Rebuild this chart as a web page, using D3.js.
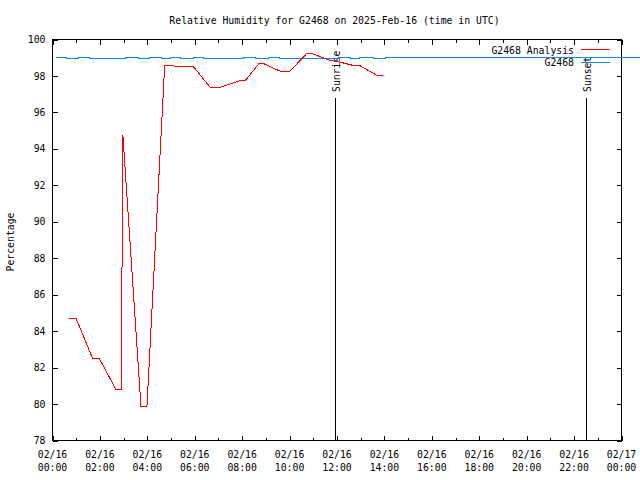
<!DOCTYPE html>
<html><head><meta charset="utf-8">
<script src="https://cdn.jsdelivr.net/npm/d3@7"></script>
<style>
body{margin:0;background:#fff}
svg{display:block;background:#fff}
text{font-family:"DejaVu Sans Mono","Liberation Mono",monospace;font-size:9.8px;fill:#000}
</style>
</head><body><svg id="c" width="640" height="480"></svg>
<script>
// ---- data ----
const title = "Relative Humidity for G2468 on 2025-Feb-16 (time in UTC)";
const yTitle = "Percentage";
const seriesNames = ["G2468 Analysis", "G2468"];
const yTicks = [78, 80, 82, 84, 86, 88, 90, 92, 94, 96, 98, 100];
const xStart = "2025-02-16 00:00";
const xEnd = "2025-02-17 00:00";

const analysisTimes = ["2025-02-16 00:43","2025-02-16 01:00","2025-02-16 01:42","2025-02-16 01:59",
  "2025-02-16 02:41","2025-02-16 02:54","2025-02-16 02:58","2025-02-16 03:44","2025-02-16 03:59",
  "2025-02-16 04:44","2025-02-16 05:05","2025-02-16 05:08","2025-02-16 05:57","2025-02-16 06:40",
  "2025-02-16 07:00","2025-02-16 07:56","2025-02-16 08:08","2025-02-16 08:42","2025-02-16 08:56",
  "2025-02-16 09:40","2025-02-16 09:59","2025-02-16 10:43","2025-02-16 10:58","2025-02-16 11:39",
  "2025-02-16 12:09","2025-02-16 12:37","2025-02-16 12:55","2025-02-16 13:42","2025-02-16 13:57"];
const analysisValues = [84.68, 84.68, 82.48, 82.48,
  80.78, 80.78, 94.78, 79.86, 79.86,
  98.6, 98.6, 98.52, 98.5, 97.35,
  97.35, 97.75, 97.75, 98.66, 98.66,
  98.22, 98.22, 99.22, 99.22, 98.88,
  98.75, 98.6, 98.6, 98.02, 98.02];

const obsTimes = ["2025-02-16 00:10","2025-02-16 00:35","2025-02-16 01:06","2025-02-16 01:34",
  "2025-02-16 03:05","2025-02-16 03:38","2025-02-16 04:05","2025-02-16 04:36","2025-02-16 04:59",
  "2025-02-16 05:24","2025-02-16 05:57","2025-02-16 06:22","2025-02-16 08:04","2025-02-16 08:34",
  "2025-02-16 09:07","2025-02-16 09:34","2025-02-16 12:04","2025-02-16 12:34","2025-02-16 12:57",
  "2025-02-16 13:32","2025-02-16 14:03","2025-02-17 00:48"];
const obsValues = [99.0, 98.94, 99.0, 98.94,
  99.0, 98.94, 99.0, 98.94, 99.0,
  98.94, 99.0, 98.94, 99.0, 98.94,
  99.0, 98.94, 99.0, 98.94, 99.0,
  98.94, 99.0, 99.0];

const eventNames = ["Sunrise", "Sunset"];
const eventTimes = ["2025-02-16 11:56", "2025-02-16 22:29"];

// ---- drawing ----
const parse = d3.utcParse("%Y-%m-%d %H:%M");
const svg = d3.select("#c");
const L = 52.5, R = 621.5, T = 39.5, B = 440.5;

const x = d3.scaleUtc().domain([parse(xStart), parse(xEnd)]).range([L, R]);
const y = d3.scaleLinear().domain([78, 100]).range([B, T]);

const majorTicks = x.ticks(d3.utcHour.every(2));
const minorTicks = x.ticks(d3.utcHour.every(1)).filter(d => d.getUTCHours() % 2 === 1);

function styleAxis(g){
  g.select(".domain").remove();
  g.selectAll("line").attr("stroke", "#000").attr("shape-rendering", "crispEdges");
  g.selectAll("text").remove();
}

// bottom
svg.append("g").attr("transform", `translate(0,${B})`)
  .call(d3.axisBottom(x).tickValues(majorTicks).tickSize(-5).tickFormat("")).call(styleAxis);
svg.append("g").attr("transform", `translate(0,${B})`)
  .call(d3.axisBottom(x).tickValues(minorTicks).tickSize(-3).tickFormat("")).call(styleAxis);
// top mirror
svg.append("g").attr("transform", `translate(0,${T})`)
  .call(d3.axisTop(x).tickValues(majorTicks).tickSize(-5).tickFormat("")).call(styleAxis);
svg.append("g").attr("transform", `translate(0,${T})`)
  .call(d3.axisTop(x).tickValues(minorTicks).tickSize(-3).tickFormat("")).call(styleAxis);
// left
svg.append("g").attr("transform", `translate(${L},0)`)
  .call(d3.axisLeft(y).tickValues(yTicks).tickSize(-5).tickFormat("")).call(styleAxis);
// right mirror
svg.append("g").attr("transform", `translate(${R},0)`)
  .call(d3.axisRight(y).tickValues(yTicks).tickSize(-5).tickFormat("")).call(styleAxis);

// border
svg.append("rect").attr("x", L).attr("y", T).attr("width", R - L).attr("height", B - T)
  .attr("fill", "none").attr("stroke", "#000").attr("shape-rendering", "crispEdges");

// y tick labels
svg.append("g").selectAll("text").data(yTicks).join("text")
  .attr("x", 45.5).attr("y", d => y(d) + 3.6).attr("text-anchor", "end").text(d => d);

// x tick labels
const fmtD = d3.utcFormat("%m/%d"), fmtT = d3.utcFormat("%H:%M");
const xl = svg.append("g").selectAll("g").data(majorTicks).join("g");
xl.append("text").attr("x", d => x(d)).attr("y", 458).attr("text-anchor", "middle").text(fmtD);
xl.append("text").attr("x", d => x(d)).attr("y", 471).attr("text-anchor", "middle").text(fmtT);

// title
svg.append("text").attr("x", 334.5).attr("y", 24).attr("text-anchor", "middle").text(title);
// y title
svg.append("text").attr("transform", "translate(14,242) rotate(-90)").attr("text-anchor", "middle").text(yTitle);

// sunrise/sunset
eventNames.forEach((name, i) => {
  const ex = Math.round(x(parse(eventTimes[i]))) + 0.5;
  svg.append("line").attr("x1", ex).attr("x2", ex).attr("y1", 98).attr("y2", B)
    .attr("stroke", "#000").attr("shape-rendering", "crispEdges");
  svg.append("text").attr("transform", `translate(${ex + 4.5},92) rotate(-90)`)
    .attr("text-anchor", "start").text(name);
});

// series lines
const redData = analysisTimes.map((t, i) => ({t: parse(t), v: analysisValues[i]}));
const blueData = obsTimes.map((t, i) => ({t: parse(t), v: obsValues[i]}));
const colors = ["#ff0000", "#1a84e6"];

svg.append("path").datum(blueData)
  .attr("d", d3.line().x(d => x(d.t)).y(d => y(d.v)).curve(d3.curveStepAfter))
  .attr("fill", "none").attr("stroke", colors[1]).attr("stroke-width", 1).attr("shape-rendering", "crispEdges");
svg.append("path").datum(redData)
  .attr("d", d3.line().x(d => x(d.t)).y(d => y(d.v)))
  .attr("fill", "none").attr("stroke", colors[0]).attr("stroke-width", 1).attr("shape-rendering", "crispEdges");

// legend
const legY = [49.5, 62];
seriesNames.forEach((name, i) => {
  svg.append("text").attr("x", 574).attr("y", legY[i] + 4).attr("text-anchor", "end").text(name);
  svg.append("line").attr("x1", 581).attr("x2", 610).attr("y1", legY[i]).attr("y2", legY[i])
    .attr("stroke", colors[i]).attr("shape-rendering", "crispEdges");
});
</script>
</body></html>
